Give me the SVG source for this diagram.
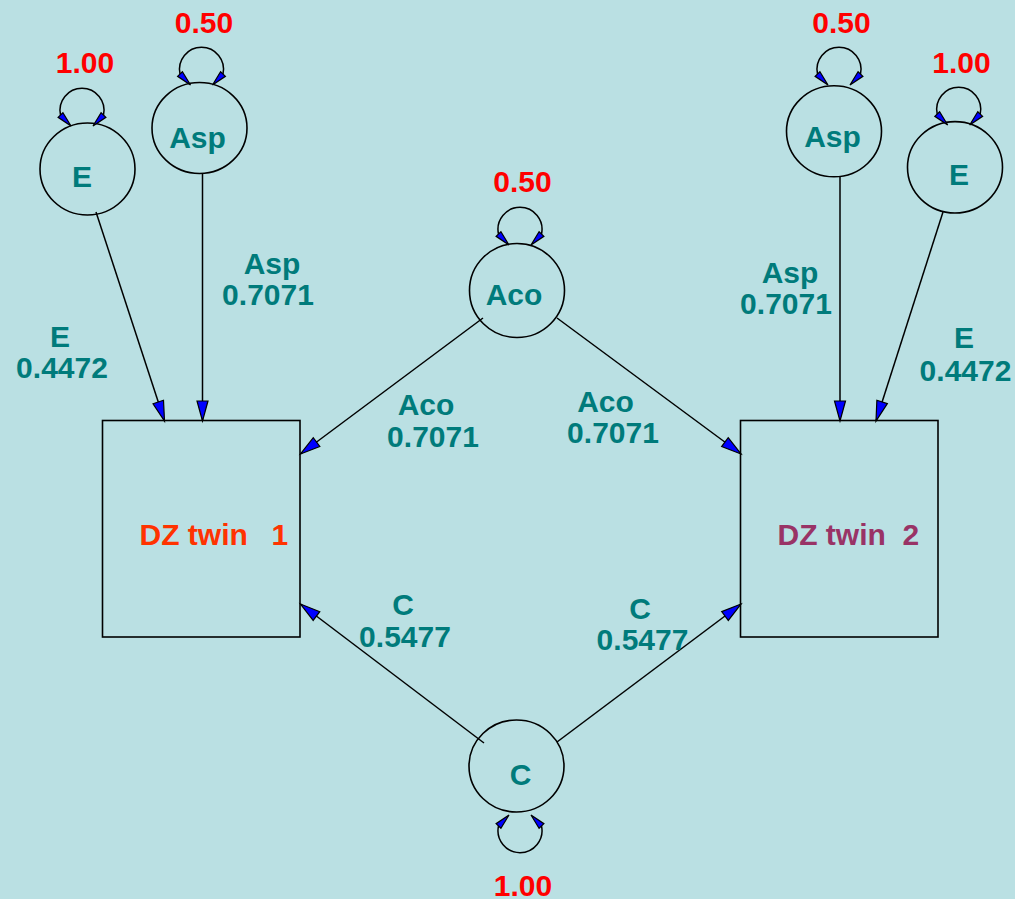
<svg xmlns="http://www.w3.org/2000/svg" xmlns:xlink="http://www.w3.org/1999/xlink" width="1015" height="899" viewBox="0 0 1015 899">
  <style>
    .lat { fill: none; stroke: #000; stroke-width: 1.6; }
    .box { fill: none; stroke: #000; stroke-width: 1.6; }
    .edge { fill: none; stroke: #000; stroke-width: 1.5; }
    .loop { fill: none; stroke: #000; stroke-width: 1.5; }
    .head { fill: #0000ff; stroke: #000; stroke-width: 1.2; stroke-linejoin: miter; }
    text { font-family: "Liberation Sans", Arial, sans-serif; font-weight: bold; font-size: 30px; }
    .lbl { fill: #007b7b; text-anchor: middle; }
    .var { fill: #ff0000; text-anchor: middle; }
    .t1 { fill: #ff3300; }
    .t2 { fill: #993366; }
  </style>
  <defs>
    <marker id="arr" markerUnits="userSpaceOnUse" markerWidth="22" markerHeight="13" refX="20" refY="5.5" orient="auto" overflow="visible">
      <path d="M0,0 L20,5.5 L0,11 z" class="head"/>
    </marker>
    <!-- variance loop sitting on top of a latent variable -->
    <g id="selfloop">
      <path class="loop" d="M -21.5,5 A 22 22 0 1 1 21.5,5"/>
      <polygon class="head" points="-11,16 -23.9,7.3 -19.1,2.7"/>
      <polygon class="head" points="11,16 23.9,7.3 19.1,2.7"/>
    </g>
  </defs>

  <rect x="0" y="0" width="1015" height="899" fill="#bae0e3"/>

  <!-- paths -->
  <g id="connectors">
    <line class="edge" x1="96" y1="212" x2="164.5" y2="421" marker-end="url(#arr)"/>
    <line class="edge" x1="202.5" y1="173.5" x2="202.5" y2="421" marker-end="url(#arr)"/>
    <line class="edge" x1="483" y1="318" x2="300.5" y2="454" marker-end="url(#arr)"/>
    <line class="edge" x1="557" y1="318" x2="741" y2="454" marker-end="url(#arr)"/>
    <line class="edge" x1="840" y1="176.5" x2="840" y2="421" marker-end="url(#arr)"/>
    <line class="edge" x1="943" y1="212" x2="876" y2="421" marker-end="url(#arr)"/>
    <line class="edge" x1="484" y1="743" x2="300.5" y2="604" marker-end="url(#arr)"/>
    <line class="edge" x1="557" y1="742" x2="741" y2="604" marker-end="url(#arr)"/>

    <text class="lbl" x="60" y="347">E</text>
    <text class="lbl" x="62" y="378">0.4472</text>
    <text class="lbl" x="272" y="274">Asp</text>
    <text class="lbl" x="268" y="305">0.7071</text>
    <text class="lbl" x="426" y="415">Aco</text>
    <text class="lbl" x="433" y="447">0.7071</text>
    <text class="lbl" x="605.5" y="411.5">Aco</text>
    <text class="lbl" x="613" y="443">0.7071</text>
    <text class="lbl" x="790" y="283">Asp</text>
    <text class="lbl" x="786" y="314">0.7071</text>
    <text class="lbl" x="964" y="347.5">E</text>
    <text class="lbl" x="965.5" y="381">0.4472</text>
    <text class="lbl" x="403" y="615">C</text>
    <text class="lbl" x="405" y="646.5">0.5477</text>
    <text class="lbl" x="640" y="619">C</text>
    <text class="lbl" x="642.5" y="650">0.5477</text>
  </g>

  <!-- latent variables -->
  <g id="E1">
    <ellipse class="lat" cx="87.5" cy="169" rx="47.5" ry="46"/>
    <text class="lbl" x="82" y="186.5">E</text>
    <use xlink:href="#selfloop" href="#selfloop" transform="translate(82,110)"/>
    <text class="var" x="85" y="72.5">1.00</text>
  </g>
  <g id="Asp1">
    <ellipse class="lat" cx="199.5" cy="128" rx="47.5" ry="45.5"/>
    <text class="lbl" x="197.5" y="148">Asp</text>
    <use xlink:href="#selfloop" href="#selfloop" transform="translate(201.5,69)"/>
    <text class="var" x="204" y="33">0.50</text>
  </g>
  <g id="Aco">
    <ellipse class="lat" cx="517" cy="290.5" rx="47.5" ry="47"/>
    <text class="lbl" x="514" y="305">Aco</text>
    <use xlink:href="#selfloop" href="#selfloop" transform="translate(520,229)"/>
    <text class="var" x="522.5" y="191.5">0.50</text>
  </g>
  <g id="Asp2">
    <ellipse class="lat" cx="834" cy="131.3" rx="47.5" ry="45.5"/>
    <text class="lbl" x="832.5" y="146.5">Asp</text>
    <use xlink:href="#selfloop" href="#selfloop" transform="translate(839,69)"/>
    <text class="var" x="841.5" y="33">0.50</text>
  </g>
  <g id="E2">
    <ellipse class="lat" cx="955" cy="167.3" rx="47.5" ry="45.7"/>
    <text class="lbl" x="959" y="185">E</text>
    <use xlink:href="#selfloop" href="#selfloop" transform="translate(958.7,109)"/>
    <text class="var" x="961.5" y="72.5">1.00</text>
  </g>
  <g id="C">
    <ellipse class="lat" cx="516.5" cy="766" rx="47.5" ry="46"/>
    <text class="lbl" x="520.5" y="785">C</text>
    <use xlink:href="#selfloop" href="#selfloop" transform="translate(520,831) scale(1,-1)"/>
    <text class="var" x="523" y="896">1.00</text>
  </g>

  <!-- observed twins -->
  <g id="twin1">
    <rect class="box" x="102.5" y="420.5" width="197.5" height="216.5"/>
    <text class="t1" x="139.5" y="545" xml:space="preserve">DZ twin  <tspan x="271.5">1</tspan></text>
  </g>
  <g id="twin2">
    <rect class="box" x="740.5" y="420.5" width="197.5" height="216.5"/>
    <text class="t2" x="777.5" y="545" xml:space="preserve">DZ twin  2</text>
  </g>
</svg>
